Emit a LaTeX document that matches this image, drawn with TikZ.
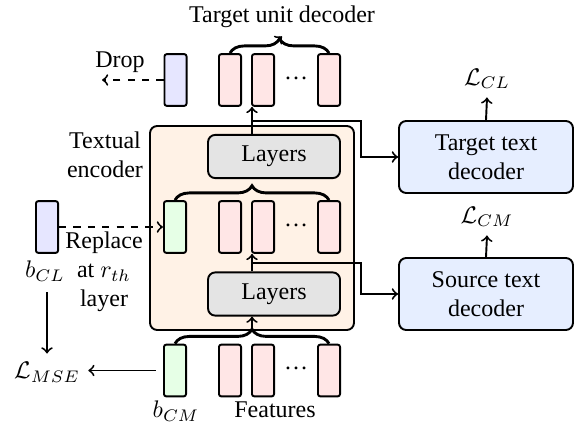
\documentclass[tikz,border=0pt]{standalone}
\usepackage{fontspec}
\setmainfont{Liberation Serif}
\usetikzlibrary{decorations.pathreplacing,calc}

\definecolor{tokblue}{RGB}{230,230,255}
\definecolor{tokred}{RGB}{255,230,230}
\definecolor{tokgreen}{RGB}{230,255,230}
\definecolor{encfill}{RGB}{255,242,230}
\definecolor{layerfill}{RGB}{228,228,228}
\definecolor{decfill}{RGB}{230,238,255}

\begin{document}
\begin{tikzpicture}[x=0.4167pt, y=-0.4167pt, >=to,
    token/.style={draw, thick, rounded corners=1pt, minimum width=9.2pt, minimum height=21.6pt, inner sep=0pt},
    layerbox/.style={draw, thick, rounded corners=3pt, fill=layerfill, minimum width=55pt, minimum height=18pt},
    decbox/.style={draw, thick, rounded corners=3pt, fill=decfill, minimum width=72.5pt, minimum height=30pt, align=center},
    tokbrace/.style={very thick, decorate, decoration={brace, amplitude=6pt}}]
    \useasboundingbox (0,0) rectangle (574,428);

    % textual encoder frame
    \draw [thick, rounded corners=3pt, fill=encfill] (150,126) rectangle (354,330);
    \node [align=center] (enclabel) at (105,155) {Textual\\encoder};
    \node [layerbox] (layhi) at (274,156.5) {Layers};
    \node [layerbox] (laylo) at (274,294) {Layers};

    % token rows
    \node [token, fill=tokblue] (tu0) at (175.5,80) {};
    \node [token, fill=tokgreen] (mid0) at (175,227) {};
    \node [token, fill=tokgreen] (ft0) at (175,370.5) {};
    \foreach \row/\y in {tu/80, mid/227, ft/370.5} {
        \node [token, fill=tokred] (\row1) at (230,\y) {};
        \node [token, fill=tokred] (\row2) at (263,\y) {};
        \node [token, fill=tokred] (\row3) at (329,\y) {};
        \node (\row dots) at (296,\y-2) {\dots};
    }
    \node [token, fill=tokblue] (bcl) at (47,227) {};

    % braces
    \draw [tokbrace] (tu1.north) -- (tu3.north) coordinate[pos=0.5, yshift=6pt] (tutip);
    \draw [tokbrace] (mid0.north) -- (mid3.north) coordinate[pos=0.5, yshift=6pt] (midtip);
    \draw [tokbrace] (ft0.north) -- (ft3.north) coordinate[pos=0.5, yshift=6pt] (fttip);

    % labels
    \node (tudec) at (282,17) {Target unit decoder};
    \node (drop) at (120,62) {Drop};
    \coordinate (dropend) at (102,80);
    \node (bcllabel) at (45,271) {$b_{CL}$};
    \node [align=center] (replace) at (104,272) {Replace\\at $r_{th}$\\layer};
    \node (lmse) at (47,372) {$\mathcal{L}_{MSE}$};
    \node (bcmlabel) at (176,411) {$b_{CM}$};
    \node (features) at (275,410) {Features};

    % text decoders
    \node [decbox] (tgtdec) at (486,157) {Target text\\decoder};
    \node [decbox] (srcdec) at (486,294) {Source text\\decoder};
    \node (lcl) at (487,79) {$\mathcal{L}_{CL}$};
    \node (lcm) at (487,217) {$\mathcal{L}_{CM}$};
    \coordinate (bendhi) at (361,157);
    \coordinate (bendlo) at (361,294);

    % connectors
    \draw [thick, ->] (tutip) -- (tudec.south);
    \draw [thick, ->, dashed] (tu0.west) -- (dropend);
    \draw [thick, ->, dashed] (bcl.east) -- (mid0.west);
    \draw [thick, ->, shorten <=1pt] (bcllabel.south -| bcl.south) -- (lmse.north -| bcl.south);
    \draw [thick, ->, shorten <=3pt] (ft0.west) -- (lmse.east |- ft0.west);
    \draw [thick, ->] (fttip) -- (fttip |- laylo.south);
    \draw [thick, ->] (fttip |- laylo.north) -- (fttip |- mid2.south);
    \draw [thick, ->] (fttip |- layhi.north) -- (fttip |- tu2.south);
    \draw [thick, ->] ($(fttip |- laylo.north)+(0,-8)$) -| (bendlo) -- (srcdec.west);
    \draw [thick, ->] ($(fttip |- layhi.north)+(0,-13)$) -| (bendhi) -- (tgtdec.west);
    \draw [thick, ->] (tgtdec.north) -- (lcl.south);
    \draw [thick, ->] (srcdec.north) -- (lcm.south);
\end{tikzpicture}
\end{document}
